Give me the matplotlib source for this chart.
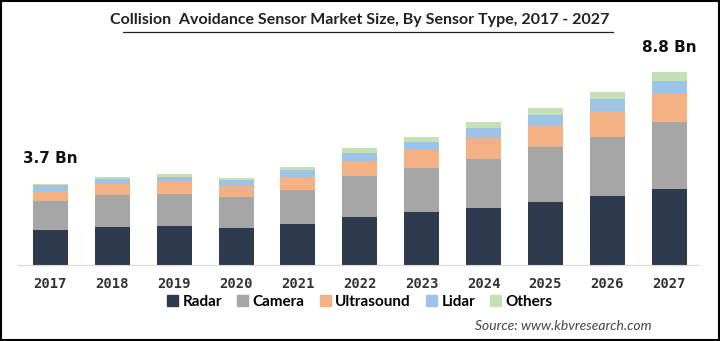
import matplotlib
matplotlib.use("Agg")
import matplotlib.pyplot as plt
from matplotlib.patches import Rectangle, Patch
import numpy as np

# data (USD Bn)
years = ["2017", "2018", "2019", "2020", "2021", "2022", "2023", "2024", "2025", "2026", "2027"]
radar = [1.60, 1.72, 1.77, 1.68, 1.89, 2.19, 2.41, 2.62, 2.89, 3.15, 3.47]
camera = [1.32, 1.46, 1.47, 1.42, 1.54, 1.87, 2.02, 2.22, 2.48, 2.71, 3.06]
ultrasound = [0.47, 0.50, 0.53, 0.52, 0.59, 0.70, 0.82, 0.95, 1.02, 1.17, 1.26]
lidar = [0.25, 0.24, 0.26, 0.27, 0.31, 0.37, 0.38, 0.46, 0.46, 0.53, 0.61]
others = [0.08, 0.10, 0.14, 0.09, 0.15, 0.23, 0.21, 0.27, 0.31, 0.35, 0.42]

segments = ["Radar", "Camera", "Ultrasound", "Lidar", "Others"]
colors = ["#2e3a4d", "#a6a6a6", "#f4b183", "#9dc3e6", "#c5e0b4"]

fig = plt.figure(figsize=(7.2, 3.41), dpi=100)
ax = fig.add_axes([0.025, 0.2229, 0.944, 0.601])

x = np.arange(len(years))
bottom = np.zeros(len(years))
for name, vals, c in zip(segments, [radar, camera, ultrasound, lidar, others], colors):
    ax.bar(x, vals, width=0.565, bottom=bottom, color=c, label=name)
    bottom += np.array(vals)

ax.set_xlim(-0.525, 10.46)
ax.set_ylim(0, 9.36)
for s in ["top", "right", "left"]:
    ax.spines[s].set_visible(False)
ax.spines["bottom"].set_color("#d9d9d9")
ax.set_yticks([])
ax.set_xticks(x)
ax.set_xticklabels(years, fontsize=10, fontweight="bold", color="#333333",
                   fontfamily="DejaVu Sans Mono")
ax.tick_params(axis="x", length=0, pad=9)

# total labels
ax.text(0, bottom[0] + 0.8, "3.7 Bn", ha="center", va="bottom",
        fontsize=11, fontweight="bold", color="#111111")
ax.text(10, bottom[-1] + 0.75, "8.8 Bn", ha="center", va="bottom",
        fontsize=11, fontweight="bold", color="#111111")

# title (underlined)
fig.text(0.5, 0.94, "Collision  Avoidance Sensor Market Size, By Sensor Type, 2017 - 2027",
         ha="center", va="center", fontsize=11.5, fontweight="bold", color="#222222",
         fontfamily="Lato")
fig.add_artist(plt.Line2D([0.171, 0.851], [0.907, 0.907], color="#222222", lw=0.9,
                          transform=fig.transFigure))

handles = [Patch(color=c) for c in colors]
fig.legend(handles, segments, loc="center", bbox_to_anchor=(0.5, 0.115), ncol=5,
           frameon=False, handlelength=0.7, handleheight=0.7, handletextpad=0.3,
           columnspacing=1.0, prop={"family": "Lato", "weight": "bold", "size": 11})

fig.text(0.905, 0.045, "Source: www.kbvresearch.com", ha="right", va="center",
         fontsize=10, style="italic", color="#444444", fontfamily="Lato")

fig.add_artist(Rectangle((0.001, 0.002), 0.997, 0.995, fill=False, edgecolor="black",
                         lw=1.5, transform=fig.transFigure))

fig.savefig("out.png", dpi=100)
